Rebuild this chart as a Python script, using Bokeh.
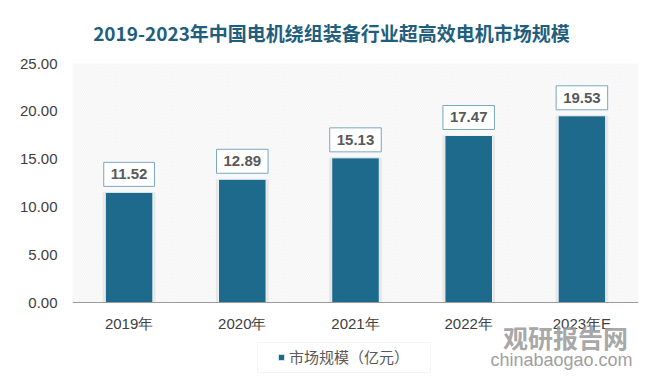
from bokeh.plotting import figure
from bokeh.models import (ColumnDataSource, FactorRange, Range1d, FixedTicker,
                          NumeralTickFormatter, Label, BoxAnnotation, Legend, LegendItem)
from bokeh.core.properties import value
from bokeh.embed import file_html
from bokeh.resources import INLINE

years = ["2019年", "2020年", "2021年", "2022年", "2023年E"]
values = [11.52, 12.89, 15.13, 17.47, 19.53]
y_ticks = [0, 5, 10, 15, 20, 25]
title_text = "2019-2023年中国电机绕组装备行业超高效电机市场规模"
series_name = "市场规模（亿元）"

W, H = 663, 391
frame_top_px, zero_px = 63, 302          # page rows of 25.00 and 0.00
px_per_unit = (zero_px - frame_top_px) / (y_ticks[-1] - y_ticks[0])
y_hi = y_ticks[-1] + frame_top_px / px_per_unit
y_lo = y_ticks[0] - (H - zero_px) / px_per_unit
FL = 72  # frame left on page

src = ColumnDataSource(dict(x=years, y=values, lbl=["%.2f" % v for v in values]))

p = figure(width=W, height=H, x_range=FactorRange(*years, range_padding=0),
           y_range=Range1d(y_lo, y_hi), output_backend="svg", toolbar_location=None,
           min_border_left=FL, min_border_right=25, min_border_top=0, min_border_bottom=0)
p.border_fill_color = "white"
p.background_fill_color = "white"
p.outline_line_color = None
p.xgrid.grid_line_color = None
p.ygrid.grid_line_color = None

# hatched plot area (value range only)
p.add_layout(BoxAnnotation(bottom=y_ticks[0], top=y_ticks[-1], fill_color="white", fill_alpha=1,
                           line_color=None, hatch_pattern="\\", hatch_color="#e4e4e4",
                           hatch_scale=3.5, hatch_weight=0.5, level="underlay"))

# soft bar shadow
p.vbar(x="x", top="y", width=0.465, source=src, fill_color="#c8c8c8", fill_alpha=0.35,
       line_color=None)
bars = p.vbar(x="x", top="y", width=0.42, source=src, fill_color="#1d6a8d",
              line_color="#eef2f5", line_width=1)

p.text(x="x", y="y", text="lbl", source=src, y_offset=-18, text_align="center",
       text_baseline="middle", text_font=value("Liberation Sans"), text_font_style="bold",
       text_font_size="15px", text_color="#595959", background_fill_color="white",
       border_line_color="#7ba7c1", border_line_width=1, padding=7)

# axes
p.yaxis.ticker = FixedTicker(ticks=y_ticks)
p.yaxis.formatter = NumeralTickFormatter(format="0.00")
p.yaxis.axis_line_color = None
p.yaxis.major_tick_line_color = None
p.yaxis.minor_tick_line_color = None
p.yaxis.major_tick_out = 0
p.yaxis.major_tick_in = 0
p.yaxis.major_label_standoff = 15
p.yaxis.major_label_text_font = "Liberation Sans"
p.yaxis.major_label_text_font_size = "15px"
p.yaxis.major_label_text_color = "#404040"

p.xaxis.fixed_location = y_ticks[0]
p.xaxis.axis_line_color = "#9a9a9a"
p.xaxis.major_tick_line_color = None
p.xaxis.minor_tick_line_color = None
p.xaxis.major_tick_out = 0
p.xaxis.major_tick_in = 0
p.xaxis.major_label_standoff = 12
p.xaxis.major_label_text_font = "Liberation Sans"
p.xaxis.major_label_text_font_size = "15px"
p.xaxis.major_label_text_color = "#404040"

# title
p.add_layout(Label(x=331 - FL, y=H - 32, x_units="screen", y_units="screen", text=title_text,
                   text_align="center", text_baseline="middle", text_font="Noto Sans CJK SC",
                   text_font_style="bold", text_font_size="19px", text_color="#215e7e"))

# watermark
p.add_layout(Label(x=565 - FL, y=H - 336, x_units="screen", y_units="screen", text="观研报告网",
                   text_align="center", text_baseline="middle", text_font="Noto Sans CJK SC",
                   text_font_style="bold", text_font_size="25px", text_color="#9c9c9c",
                   text_alpha=0.9))
p.add_layout(Label(x=561 - FL, y=H - 359, x_units="screen", y_units="screen", text="chinabaogao.com",
                   text_align="center", text_baseline="middle", text_font="Liberation Sans",
                   text_font_size="18px", text_color="#a0a0a0"))

# legend: frame box + borderless legend
p.add_layout(BoxAnnotation(left=257 - FL, right=430 - FL, bottom=H - 372, top=H - 342,
                           left_units="screen", right_units="screen", bottom_units="screen",
                           top_units="screen", fill_color="white", fill_alpha=1,
                           line_color="#d9d9d9", line_width=1, level="underlay"))
legend = Legend(items=[LegendItem(label=series_name, renderers=[bars])],
                location=(277 - FL, H - 367), orientation="horizontal",
                border_line_color=None, background_fill_alpha=0,
                label_text_font="Noto Sans CJK SC", label_text_font_size="15px",
                label_text_color="#595959", glyph_width=8, glyph_height=8, label_standoff=4,
                padding=0, margin=0, label_height=20)
p.add_layout(legend, "center")

open("out.html", "w").write(file_html(p, INLINE))
